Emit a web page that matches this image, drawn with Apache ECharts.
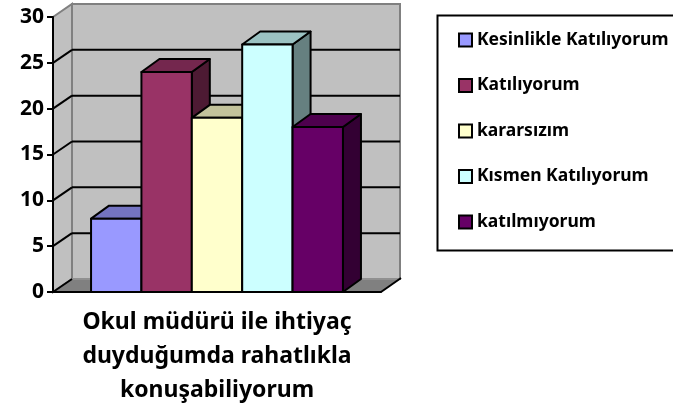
<!DOCTYPE html>
<html>
<head>
<meta charset="utf-8">
<script src="https://cdn.jsdelivr.net/npm/echarts@6/dist/echarts.min.js"></script>
<style>
  html, body { margin: 0; padding: 0; background: #fff; }
</style>
</head>
<body>
<div id="chart" style="width: 673px; height: 414px;"></div>
<script>
// tek kategori, 5 seri
const categories = ['Okul müdürü ile ihtiyaç\nduyduğumda rahatlıkla\nkonuşabiliyorum'];
const seriesNames = ['Kesinlikle Katılıyorum', 'Katılıyorum', 'kararsızım', 'Kısmen Katılıyorum', 'katılmıyorum'];
const seriesValues = [8, 24, 19, 27, 18];
const seriesColors = ['#9999ff', '#993366', '#ffffcc', '#ccffff', '#660066'];
const yTicks = [0, 5, 10, 15, 20, 25, 30];

const FONT = 'Noto Sans';
const DX = 19, DY = -13;      // derinlik (duvar)
const BDX = 18, BDY = -13;    // derinlik (çubuk)
const GAP = 0.232;            // kategori boşluğu

function shade(hex, k) {
  const n = parseInt(hex.slice(1), 16);
  const r = Math.round(((n >> 16) & 255) * k);
  const g = Math.round(((n >> 8) & 255) * k);
  const b = Math.round((n & 255) * k);
  return 'rgb(' + r + ',' + g + ',' + b + ')';
}

// arka duvar, yan duvar, zemin ve ızgara çizgileri
function renderWalls(params, api) {
  const cs = params.coordSys;
  const x0 = cs.x, x1 = cs.x + cs.width;
  const yTop = cs.y, yb = cs.y + cs.height;
  const children = [];
  // arka duvar
  children.push({
    type: 'rect',
    shape: { x: x0 + DX, y: yTop + DY, width: cs.width, height: cs.height },
    style: { fill: '#c0c0c0', stroke: '#808080', lineWidth: 2 }
  });
  // yan duvar
  children.push({
    type: 'polygon',
    shape: { points: [[x0, yTop], [x0 + DX, yTop + DY], [x0 + DX, yb + DY], [x0, yb]] },
    style: { fill: '#c0c0c0', stroke: '#808080', lineWidth: 2 }
  });
  // zemin
  children.push({
    type: 'polygon',
    shape: { points: [[x0, yb], [x1, yb], [x1 + DX, yb + DY], [x0 + DX, yb + DY]] },
    style: { fill: '#808080', stroke: '#a0a0a0', lineWidth: 1 }
  });
  children.push({
    type: 'line',
    shape: { x1: x1, y1: yb, x2: x1 + DX + 1, y2: yb + DY - 1 },
    style: { stroke: '#000', lineWidth: 2 }
  });
  yTicks.forEach(function (v) {
    const y = api.coord([0, v])[1];
    if (v > 0 && v < 30) {
      children.push({
        type: 'line',
        shape: { x1: x0 + DX, y1: y + DY, x2: x1 + DX, y2: y + DY },
        style: { stroke: '#000', lineWidth: 2 }
      });
    }
    if (v < 30) {
      children.push({
        type: 'line',
        shape: { x1: x0, y1: y, x2: x0 + DX, y2: y + DY },
        style: { stroke: '#000', lineWidth: 2 }
      });
    }
  });
  return { type: 'group', children: children };
}

function makeBarRenderer(idx) {
  return function (params, api) {
    const base = api.coord([api.value(0), 0]);
    const top = api.coord([api.value(0), api.value(1)]);
    const band = api.size([1, 0])[0];
    const groupW = band * (1 - GAP);
    const bw = groupW / seriesNames.length;
    const x = base[0] - groupW / 2 + idx * bw;
    const yt = top[1], yb = base[1];
    const c = seriesColors[idx];
    const st = { stroke: '#000', lineWidth: 2, lineJoin: 'round' };
    return {
      type: 'group',
      children: [
        { type: 'polygon',
          shape: { points: [[x + bw, yt], [x + bw + BDX, yt + BDY], [x + bw + BDX, yb + BDY], [x + bw, yb]] },
          style: Object.assign({ fill: shade(c, 0.5) }, st) },
        { type: 'polygon',
          shape: { points: [[x, yt], [x + bw, yt], [x + bw + BDX, yt + BDY], [x + BDX, yt + BDY]] },
          style: Object.assign({ fill: shade(c, 0.76) }, st) },
        { type: 'rect',
          shape: { x: x, y: yt, width: bw, height: yb - yt },
          style: Object.assign({ fill: c }, st) }
      ]
    };
  };
}

const chart = echarts.init(document.getElementById('chart'));

const series = [{
  name: 'walls',
  type: 'custom',
  renderItem: renderWalls,
  data: [[0, 0]],
  encode: { x: 0, y: 1 },
  silent: true,
  z: 1
}];
seriesNames.forEach(function (name, i) {
  series.push({
    name: name,
    type: 'custom',
    renderItem: makeBarRenderer(i),
    itemStyle: { color: seriesColors[i] },
    data: [[0, seriesValues[i]]],
    encode: { x: 0, y: 1 },
    z: 2
  });
});

chart.setOption({
  animation: false,
  grid: { left: 53, top: 17, width: 328, height: 275 },
  xAxis: {
    type: 'category',
    data: categories,
    z: 10,
    axisLine: { lineStyle: { color: '#000', width: 2 } },
    axisTick: { length: 7, lineStyle: { color: '#000', width: 2 } },
    axisLabel: {
      margin: 13,
      color: '#000',
      fontFamily: FONT,
      fontWeight: 'bold',
      fontSize: 23,
      lineHeight: 34
    },
    splitLine: { show: false }
  },
  yAxis: {
    type: 'value',
    min: 0,
    max: 30,
    interval: 5,
    z: 10,
    axisLine: { show: true, lineStyle: { color: '#000', width: 2 } },
    axisTick: { show: true, length: 6, lineStyle: { color: '#000', width: 2 } },
    axisLabel: {
      margin: 9,
      color: '#000',
      fontFamily: FONT,
      fontWeight: 'bold',
      fontSize: 21
    },
    splitLine: { show: false }
  },
  legend: {
    orient: 'vertical',
    left: 458,
    top: 31,
    padding: 0,
    itemWidth: 13,
    itemHeight: 13,
    itemGap: 27.5,
    icon: 'rect',
    selectedMode: false,
    itemStyle: { borderColor: '#000', borderWidth: 2 },
    textStyle: {
      color: '#000',
      fontFamily: FONT,
      fontWeight: 'bold',
      fontSize: 17.5,
      lineHeight: 16
    },
    data: seriesNames.map(function (n, i) {
      return { name: n, itemStyle: { color: seriesColors[i] } };
    })
  },
  graphic: [{
    type: 'rect',
    left: 435,
    top: 13,
    shape: { width: 250, height: 235 },
    style: { fill: 'none', stroke: '#000', lineWidth: 2 }
  }],
  series: series
});
</script>
</body>
</html>
